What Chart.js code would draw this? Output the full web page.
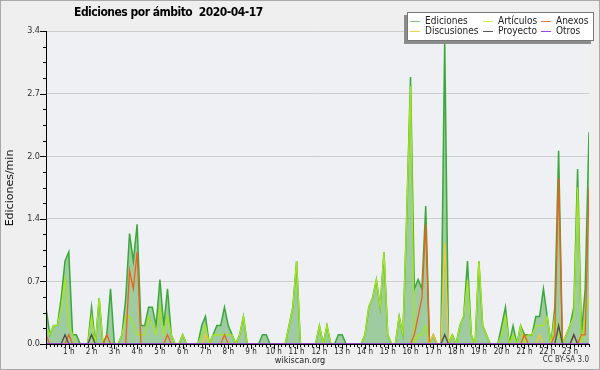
<!DOCTYPE html>
<html>
<head>
<meta charset="utf-8">
<script src="https://cdn.jsdelivr.net/npm/chart.js@4.4.1/dist/chart.umd.min.js"></script>
<style>
  body { margin: 0; }
  #wrap { position: relative; width: 600px; height: 370px; background: #efefef; overflow: hidden;
          font-family: "DejaVu Sans Condensed", "DejaVu Sans", sans-serif; font-stretch: condensed; }
  #frame { position: absolute; left: 0; top: 0; width: 598px; height: 368px; border: 1px solid #a9a9a9; pointer-events: none; }
  #title { position: absolute; left: 74px; top: 5px; font-weight: bold; font-size: 12px; letter-spacing: -0.5px; color: #000; white-space: pre; }
  #ylab { position: absolute; left: -40px; top: 181px; width: 100px; height: 14px; line-height: 14px; text-align: center;
          font-size: 11px; color: #111; transform: rotate(-90deg); transform-origin: 50px 7px; white-space: nowrap;
          font-family: "DejaVu Sans", sans-serif; font-stretch: normal; }
  #legend { position: absolute; left: 407px; top: 12px; width: 185px; height: 27px; background: #fff;
            border: 1px solid #777; box-shadow: -3px 3px 0 #8c8c8c; }
  .item { position: absolute; font-size: 10px; color: #222; line-height: 10px; white-space: nowrap; }
  .item i { position: absolute; left: -15px; top: 5px; width: 10px; height: 1px; }
  #site { position: absolute; left: 0; width: 600px; top: 355px; text-align: center; font-size: 9px; color: #222; }
  #lic { position: absolute; right: 11px; top: 355px; font-size: 8px; color: #333; }
</style>
</head>
<body>
<div id="wrap">
  <canvas id="myChart" width="600" height="370"></canvas>
  <div id="title">Ediciones por ámbito  2020-04-17</div>
  <div id="ylab">Ediciones/min</div>
  <div id="legend"></div>
  <div id="site">wikiscan.org</div>
  <div id="lic">CC BY-SA 3.0</div>
  <div id="frame"></div>
</div>
<script>
// edits per minute, one value per 10 minutes (00:00 - 23:50)
var ediciones = [
  0.4, 0.1, 0.2, 0.2, 0.5, 0.9, 1.0, 0.1, 0.1, 0, 0, 0,
  0.4, 0, 0.5, 0, 0.1, 0.6, 0, 0, 0.1, 0.5, 1.2, 0.9,
  1.3, 0.2, 0.2, 0.4, 0.4, 0.2, 0.7, 0.2, 0.6, 0.1, 0, 0,
  0.1, 0, 0, 0, 0, 0.2, 0.3, 0, 0.1, 0.2, 0.2, 0.4,
  0.2, 0.1, 0, 0.1, 0.3, 0, 0, 0, 0, 0.1, 0.1, 0,
  0, 0, 0, 0, 0.2, 0.4, 0.9, 0, 0, 0, 0, 0,
  0.2, 0, 0.2, 0, 0, 0.1, 0.1, 0, 0, 0, 0, 0,
  0.1, 0.4, 0.5, 0.7, 0.4, 1.0, 0.1, 0, 0, 0.3, 0.1, 1.4,
  2.9, 0.6, 0.7, 0.6, 1.5, 0, 0.1, 0, 0, 3.3, 0, 0.1,
  0, 0.2, 0.3, 0.9, 0.1, 0, 0.9, 0.2, 0.1, 0, 0, 0,
  0.2, 0.4, 0, 0.2, 0, 0.2, 0.1, 0.1, 0.1, 0.3, 0.3, 0.6,
  0.3, 0, 0.4, 2.1, 0, 0.1, 0.2, 0.4, 1.9, 0.1, 0.6, 2.3
];
var articulos = [
  0.2, 0.1, 0.2, 0.2, 0.4, 0.7, 0.2, 0.1, 0, 0, 0, 0,
  0.3, 0, 0.5, 0, 0, 0, 0, 0, 0.1, 0.3, 0.3, 0.2,
  0.1, 0.1, 0.1, 0.3, 0.2, 0.1, 0.4, 0.1, 0.3, 0.1, 0, 0,
  0.1, 0, 0, 0, 0, 0.1, 0.2, 0, 0.1, 0.1, 0.1, 0.1,
  0.1, 0.1, 0, 0.1, 0.3, 0, 0, 0, 0, 0, 0, 0,
  0, 0, 0, 0, 0.2, 0.4, 0.9, 0, 0, 0, 0, 0,
  0.2, 0, 0.2, 0, 0, 0, 0, 0, 0, 0, 0, 0,
  0.1, 0.4, 0.5, 0.7, 0.4, 1.0, 0.1, 0, 0, 0.3, 0.1, 1.4,
  2.8, 0, 0.1, 0.1, 0.2, 0, 0, 0, 0, 0, 0, 0.1,
  0, 0.2, 0.3, 0.7, 0.1, 0, 0.9, 0.2, 0.1, 0, 0, 0,
  0.1, 0.3, 0, 0.1, 0, 0.2, 0, 0.1, 0.1, 0.2, 0.2, 0.2,
  0.3, 0, 0.3, 0.1, 0, 0.1, 0.2, 0.3, 1.7, 0, 0.3, 0.5
];
var anexos = [
  0.1, 0, 0, 0, 0, 0, 0.1, 0, 0, 0, 0, 0,
  0, 0, 0, 0, 0.1, 0, 0, 0, 0, 0, 0.8, 0.6,
  1.0, 0, 0, 0, 0, 0, 0, 0, 0.1, 0, 0, 0,
  0, 0, 0, 0, 0, 0, 0, 0, 0, 0, 0, 0.1,
  0, 0, 0, 0, 0, 0, 0, 0, 0, 0, 0, 0,
  0, 0, 0, 0, 0, 0, 0, 0, 0, 0, 0, 0,
  0, 0, 0, 0, 0, 0, 0, 0, 0, 0, 0, 0,
  0, 0, 0, 0, 0, 0, 0, 0, 0, 0, 0, 0,
  0, 0.1, 0.3, 0.5, 1.3, 0, 0, 0, 0, 0, 0, 0,
  0, 0, 0, 0, 0, 0, 0, 0, 0, 0, 0, 0,
  0, 0, 0, 0, 0, 0, 0.1, 0, 0, 0, 0, 0,
  0, 0, 0.1, 1.8, 0, 0, 0, 0.1, 0, 0.1, 0.1, 1.7
];
var discusiones = [
  0, 0, 0, 0, 0, 0, 0, 0, 0, 0, 0, 0,
  0, 0, 0, 0, 0, 0, 0, 0, 0, 0, 0, 0,
  0, 0, 0, 0, 0, 0, 0, 0, 0, 0, 0, 0,
  0, 0, 0, 0, 0, 0, 0.1, 0, 0, 0, 0, 0,
  0, 0, 0, 0, 0, 0, 0, 0, 0, 0, 0, 0,
  0, 0, 0, 0, 0, 0, 0, 0, 0, 0, 0, 0,
  0, 0, 0, 0, 0, 0, 0, 0, 0, 0, 0, 0,
  0, 0, 0, 0, 0, 0, 0, 0, 0, 0, 0, 0,
  0, 0, 0, 0, 0, 0, 0.1, 0, 0, 1.1, 0, 0,
  0, 0, 0, 0, 0, 0, 0, 0, 0, 0, 0, 0,
  0, 0, 0, 0, 0, 0, 0, 0, 0, 0, 0.1, 0,
  0, 0, 0, 0, 0, 0, 0, 0, 0, 0, 0, 0
];
var proyecto = [
  0, 0, 0, 0, 0, 0.1, 0, 0, 0, 0, 0, 0,
  0.1, 0, 0, 0, 0, 0, 0, 0, 0, 0, 0, 0,
  0, 0, 0, 0, 0, 0, 0, 0, 0, 0, 0, 0,
  0, 0, 0, 0, 0, 0, 0, 0, 0, 0, 0, 0,
  0, 0, 0, 0, 0, 0, 0, 0, 0, 0, 0, 0,
  0, 0, 0, 0, 0, 0, 0, 0, 0, 0, 0, 0,
  0, 0, 0, 0, 0, 0, 0, 0, 0, 0, 0, 0,
  0, 0, 0, 0, 0, 0, 0, 0, 0, 0, 0, 0,
  0, 0, 0, 0, 0, 0, 0, 0, 0, 0.1, 0, 0,
  0, 0, 0, 0, 0, 0, 0, 0, 0, 0, 0, 0,
  0, 0, 0, 0, 0, 0, 0, 0, 0, 0, 0, 0,
  0, 0, 0, 0.2, 0, 0, 0, 0.1, 0, 0, 0, 0
];
var otros = [
  0, 0, 0, 0, 0, 0, 0, 0, 0, 0, 0, 0,
  0, 0, 0, 0, 0, 0, 0, 0, 0, 0, 0, 0,
  0, 0, 0, 0, 0, 0, 0, 0, 0, 0, 0, 0,
  0, 0, 0, 0, 0, 0, 0, 0, 0, 0, 0, 0,
  0, 0, 0, 0, 0, 0, 0, 0, 0, 0, 0, 0,
  0, 0, 0, 0, 0, 0, 0, 0, 0, 0, 0, 0,
  0, 0, 0, 0, 0, 0, 0, 0, 0, 0, 0, 0,
  0, 0, 0, 0, 0, 0, 0, 0, 0, 0, 0, 0,
  0, 0, 0, 0, 0, 0, 0, 0, 0, 0, 0, 0,
  0, 0, 0, 0, 0, 0, 0, 0, 0, 0, 0, 0,
  0, 0, 0, 0, 0, 0, 0, 0, 0, 0, 0, 0,
  0, 0, 0, 0, 0, 0, 0, 0, 0, 0, 0, 0
];

var seriesNames = ['Ediciones', 'Artículos', 'Anexos', 'Discusiones', 'Proyecto', 'Otros'];
var yTicks = [0, 0.68, 1.36, 2.04, 2.72, 3.4];
var slotsPerHour = 6;

var lineColors = ['#3aa83a', '#a6e61a', '#f0601c', '#f6c42c', '#4a4a4a', '#9a3cf0'];
var legendColors = ['#7ccc7c', '#c6ee4a', '#f07a4a', '#f8cc4c', '#5a5a5a', '#9a44f0'];

function points(arr) {
  return arr.map(function (v, i) { return { x: i, y: v }; });
}

// legend, three columns like the original
var legend = document.getElementById('legend');
var legendPos = [[17, 3], [90, 3], [148, 3], [17, 13], [90, 13], [148, 13]];
seriesNames.forEach(function (name, k) {
  var d = document.createElement('div');
  d.className = 'item';
  d.style.left = legendPos[k][0] + 'px';
  d.style.top = legendPos[k][1] + 'px';
  d.innerHTML = '<i style="background:' + legendColors[k] + '"></i>' + name;
  legend.appendChild(d);
});

var plotBg = {
  id: 'plotBg',
  beforeDraw: function (chart) {
    var a = chart.chartArea, ctx = chart.ctx;
    ctx.save();
    ctx.fillStyle = '#eef0f3';
    ctx.fillRect(a.left, a.top, a.right - a.left, a.bottom - a.top);
    ctx.restore();
  }
};

var axisMarks = {
  id: 'axisMarks',
  afterDatasetsDraw: function (chart) {
    var a = chart.chartArea, ctx = chart.ctx;
    var xs = chart.scales.x, ys = chart.scales.y;
    ctx.save();
    ctx.strokeStyle = '#000';
    ctx.lineWidth = 1;
    ctx.beginPath();
    ctx.moveTo(a.left + 0.5, a.top);
    ctx.lineTo(a.left + 0.5, a.bottom + 0.5);
    ctx.lineTo(a.right, a.bottom + 0.5);
    ys.ticks.forEach(function (t, i) {
      var py = Math.round(ys.getPixelForValue(t.value)) + 0.5;
      var len = i % 4 === 0 ? 6 : 3;
      ctx.moveTo(a.left - len, py);
      ctx.lineTo(a.left, py);
    });
    xs.ticks.forEach(function (t) {
      var px = Math.round(xs.getPixelForValue(t.value)) + 0.5;
      var len = t.value % slotsPerHour === 0 ? 5 : 3;
      ctx.moveTo(px, a.bottom);
      ctx.lineTo(px, a.bottom + len);
    });
    ctx.stroke();
    ctx.restore();
  }
};

var ctx = document.getElementById('myChart');
var allSeries = [ediciones, articulos, anexos, discusiones, proyecto, otros];

var edChart = new Chart(ctx, {
  type: 'line',
  data: {
    datasets: allSeries.map(function (arr, k) {
      return {
        label: seriesNames[k],
        data: points(arr),
        borderColor: lineColors[k],
        backgroundColor: k === 0 ? 'rgba(60,160,60,0.45)' : lineColors[k],
        fill: k === 0 ? 'origin' : false,
        borderWidth: k === 0 ? 1.5 : 1.3,
        pointRadius: 0,
        tension: 0,
        order: 6 - k
      };
    })
  },
  options: {
    responsive: false,
    animation: false,
    layout: { padding: { left: 0, right: 11, top: 31, bottom: 0 } },
    plugins: {
      legend: { display: false },
      tooltip: { enabled: false }
    },
    scales: {
      x: {
        type: 'linear',
        min: 0,
        max: ediciones.length - 1,
        afterFit: function (s) { s.height = 26; },
        grid: { display: false, drawTicks: false },
        border: { display: false },
        ticks: {
          stepSize: 1,
          autoSkip: false,
          maxRotation: 0,
          padding: 3,
          color: '#222',
          font: { family: '"DejaVu Sans Condensed", "DejaVu Sans"', size: 8 },
          callback: function (v) {
            return (v % slotsPerHour === 0 && v > 0) ? (v / slotsPerHour) + ' h' : '';
          }
        }
      },
      y: {
        min: yTicks[0],
        max: yTicks[yTicks.length - 1],
        afterFit: function (s) { s.width = 46; },
        grid: {
          drawTicks: false,
          color: function (c) { return (c.index % 4 === 0 && c.index > 0) ? '#cdcdcd' : 'rgba(0,0,0,0)'; }
        },
        border: { display: false },
        ticks: {
          stepSize: (yTicks[1] - yTicks[0]) / 4,
          autoSkip: false,
          padding: 6,
          color: '#333',
          font: { family: '"DejaVu Sans Condensed", "DejaVu Sans"', size: 9 },
          callback: function (v, i) { return i % 4 === 0 ? v.toFixed(1) : ''; }
        }
      }
    }
  },
  plugins: [plotBg, axisMarks]
});
</script>
</body>
</html>
